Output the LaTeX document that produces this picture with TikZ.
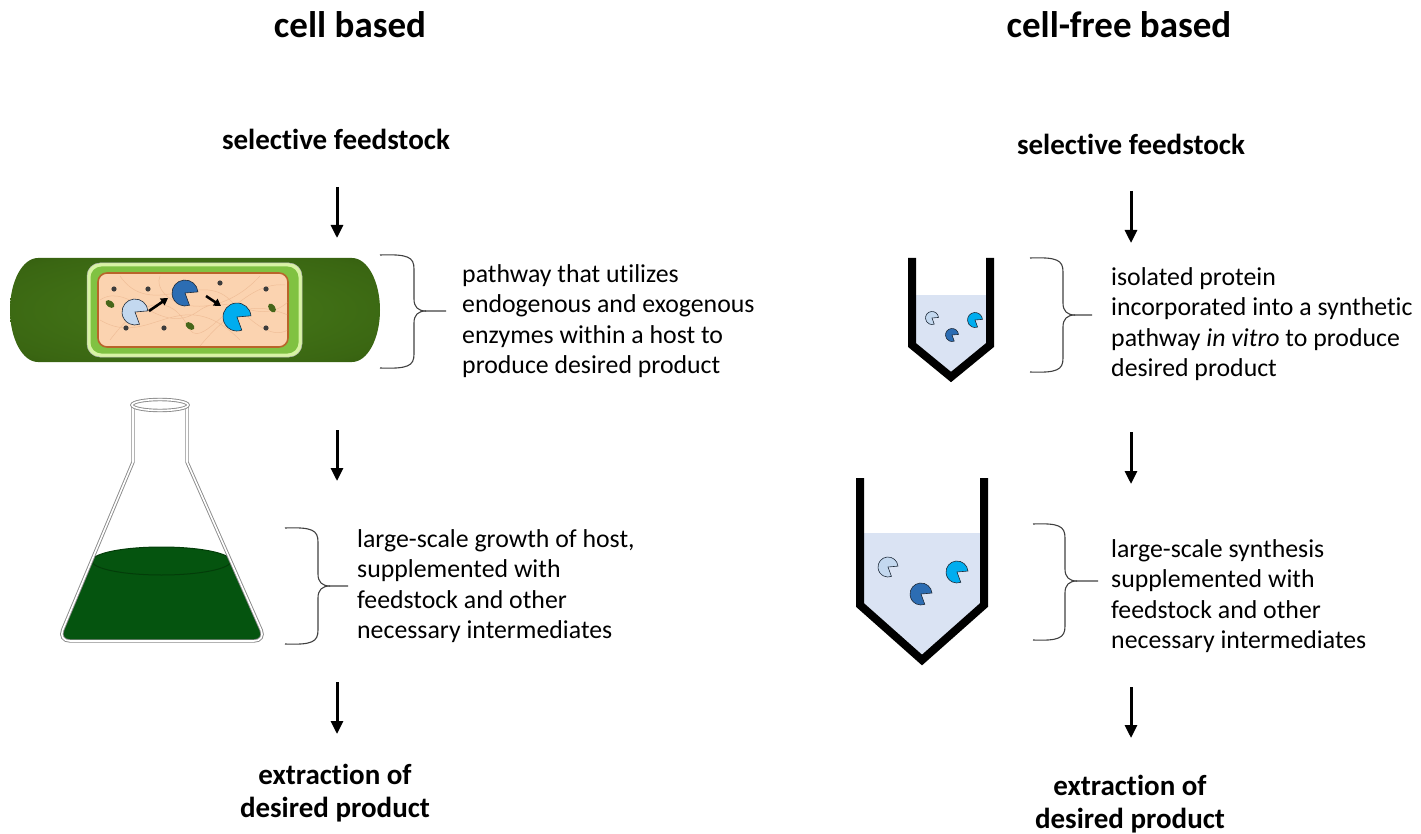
\documentclass[tikz,border=0pt]{standalone}
\usepackage{fontspec}
\setmainfont{Carlito}[Ligatures={NoCommon}]
\usetikzlibrary{arrows.meta}

\definecolor{cellgreen}{HTML}{3A6612}
\definecolor{cellgreenlight}{HTML}{477A19}
\definecolor{cellgreendark}{HTML}{284A08}
\definecolor{wallpale}{HTML}{D8F3A4}
\definecolor{wallgreen}{HTML}{80C242}
\definecolor{membrane}{HTML}{B8642A}
\definecolor{cytoplasm}{HTML}{FBD3B0}
\definecolor{fibre}{HTML}{F0BE98}
\definecolor{enzA}{HTML}{C3D8EF}
\definecolor{enzB}{HTML}{2C6DB3}
\definecolor{enzC}{HTML}{00ADEF}
\definecolor{pacedge}{HTML}{1E2B3A}
\definecolor{broth}{HTML}{05540F}
\definecolor{brothedge}{HTML}{033D09}
\definecolor{buffer}{HTML}{DAE3F3}
\definecolor{glass}{HTML}{8A8A8A}
\definecolor{granule}{HTML}{46661A}
\definecolor{ribosome}{HTML}{3C3C3C}

\pgfdeclareradialshading{capsule}{\pgfpoint{0bp}{0bp}}{%
  color(0bp)=(cellgreenlight); color(30bp)=(cellgreen); color(50bp)=(cellgreendark)}

% enzyme glyph: x, y, radius, fill colour
\newcommand\enzyme[4]{%
  \filldraw[fill=#4, draw=pacedge, line width=0.6pt]
    (#1,#2) -- ++(-5:#3) arc[start angle=-5, end angle=-290, radius=#3] -- cycle;}

% curly bracket: left end x, stem x, tip x, top y, middle y, bottom y
\newcommand\curlybrace[6]{%
  \draw[bracket] (#1,#4) .. controls ({#2-6},{#4-1}) and (#2,{#4+2}) .. (#2,{#4+14})
    -- (#2,{#5-12}) .. controls (#2,{#5-4}) and ({#2+4},#5) .. ({#2+12},#5) -- (#3,#5);
  \draw[bracket] (#1,#6) .. controls ({#2-6},{#6+1}) and (#2,{#6-2}) .. (#2,{#6-14})
    -- (#2,{#5+12}) .. controls (#2,{#5+4}) and ({#2+4},#5) .. ({#2+12},#5);}

\begin{document}
\begin{tikzpicture}[x=1pt, y=-1pt,
  title/.style={font=\bfseries\fontsize{37}{44}\selectfont, inner sep=0, anchor=base},
  stage/.style={font=\bfseries\fontsize{29}{33}\selectfont, inner sep=0, align=center},
  desc/.style={font=\fontsize{25.8}{30.5}\selectfont, inner sep=0, align=left, anchor=north west},
  flow/.style={line width=3pt, -{Triangle[length=13pt,width=12pt]}},
  minorflow/.style={line width=2.6pt, -{Triangle[length=7pt,width=8pt]}},
  bracket/.style={line width=1.1pt, draw=black!75},
  tubewall/.style={line width=8pt, line join=miter, line cap=butt},
  flaskline/.style={draw=glass, line width=0.9pt, double=white, double distance=1.6pt}]

\useasboundingbox (0,0) rectangle (1421,834);

% ---------------- headings ----------------
\node[title] (tL) at (350,38) {cell based};
\node[title] (tR) at (1119,38) {cell-free based};

\node[stage, anchor=base] (sL) at (336,150) {selective feedstock};
\node[stage, anchor=base] (sR) at (1131,155) {selective feedstock};

\node[stage, anchor=north] (xL) at (335,{784-23.1}) {\strut extraction of\\desired product};
\node[stage, anchor=north] (xR) at (1130,{795-23.1}) {\strut extraction of\\desired product};

% ---------------- flow arrows ----------------
\coordinate (L1a) at (337,187);  \coordinate (L1b) at (337,238);
\coordinate (L2a) at (337,430);  \coordinate (L2b) at (337,481);
\coordinate (L3a) at (337,682);  \coordinate (L3b) at (337,734);
\coordinate (R1a) at (1131,191); \coordinate (R1b) at (1131,243);
\coordinate (R2a) at (1131,432); \coordinate (R2b) at (1131,484);
\coordinate (R3a) at (1131,687); \coordinate (R3b) at (1131,738);
\foreach \s/\e in {L1a/L1b, L2a/L2b, L3a/L3b, R1a/R1b, R2a/R2b, R3a/R3b}
  \draw[flow] (\s) -- (\e);

% ---------------- host cell ----------------
\shade[shading=capsule] (38,258) -- (352,258)
  arc[start angle=-90, end angle=90, x radius=28, y radius=52] -- (38,362)
  arc[start angle=90, end angle=270, x radius=28, y radius=52] -- cycle;
\filldraw[fill=wallpale, draw=glass!60, line width=0.5pt, rounded corners=13pt] (87,263) rectangle (302,357);
\fill[wallgreen, rounded corners=11pt] (90.5,266.5) rectangle (298.5,353.5);
\filldraw[fill=cytoplasm, draw=membrane, line width=1.6pt, rounded corners=9pt] (98,273) rectangle (288,347);
\begin{scope}
  \clip[rounded corners=8pt] (99,274) rectangle (287,346);
  \draw[fibre, line width=0.5pt]
    (100,300) .. controls (130,280) and (160,340) .. (200,310) .. controls (230,290) and (260,330) .. (290,300)
    (110,340) .. controls (140,300) and (170,290) .. (190,330) .. controls (205,350) and (240,280) .. (285,285)
    (120,276) .. controls (150,320) and (200,270) .. (230,300) .. controls (250,320) and (270,340) .. (288,330)
    (100,320) .. controls (150,350) and (180,280) .. (240,340)
    (160,276) .. controls (150,300) and (210,330) .. (260,276)
    (200,346) .. controls (230,310) and (250,300) .. (288,315);
\end{scope}
\foreach \p in {(114,289),(148,289),(220,283),(266,289),(126,328),(164,328),(266,328)}
  \fill[ribosome] \p circle[radius=2.6];
\fill[granule, rotate around={-35:(110,304)}] (110,304) ellipse[x radius=5, y radius=3.2];
\fill[granule, rotate around={-35:(190,326)}] (190,326) ellipse[x radius=5, y radius=3.2];
\fill[granule, rotate around={-55:(272,308)}] (272,308) ellipse[x radius=5, y radius=3.2];
\enzyme{135}{312}{13}{enzA}
\enzyme{185}{293}{13}{enzB}
\enzyme{237}{317}{14}{enzC}
\coordinate (c1a) at (149,311); \coordinate (c1b) at (168,298);
\coordinate (c2a) at (206,296); \coordinate (c2b) at (221,306);
\draw[minorflow] (c1a) -- (c1b);
\draw[minorflow] (c2a) -- (c2b);

% ---------------- culture flask ----------------
\fill[broth] (231,561) arc[start angle=0, end angle=-180, x radius=69.5, y radius=14]
  [rounded corners=12pt] -- (58,641) -- (266,641) [sharp corners] -- cycle;
\draw[brothedge, line width=1pt] (161.5,561) ellipse[x radius=69.5, y radius=14];
\draw[flaskline, rounded corners=12pt] (133,407) [sharp corners] -- (133,462) [rounded corners=12pt]
  -- (58,641) -- (266,641) [sharp corners] -- (187,462) -- (187,407);
\draw[flaskline] (160,405) ellipse[x radius=28, y radius=5.5];

% ---------------- reaction tubes ----------------
\fill[buffer] (912,295) -- (990,295) -- (990,345) -- (951,377) -- (912,345) -- cycle;
\draw[tubewall] (912,258) -- (912,345) -- (951,377) -- (990,345) -- (990,258);
\enzyme{932}{318}{6.5}{enzA}
\enzyme{952}{335}{6.5}{enzB}
\enzyme{975}{320}{7.5}{enzC}

\fill[buffer] (860,533) -- (984,533) -- (984,605) -- (922,660) -- (860,605) -- cycle;
\draw[tubewall] (860,478) -- (860,605) -- (922,660) -- (984,605) -- (984,478);
\enzyme{888}{567}{10}{enzA}
\enzyme{921}{594}{11}{enzB}
\enzyme{957}{572}{11}{enzC}

% ---------------- brackets and notes ----------------
\curlybrace{380}{414}{446}{255}{311}{368}
\curlybrace{285}{318}{348}{528}{586}{644}
\curlybrace{1030}{1063}{1092}{258}{315}{372}
\curlybrace{1033}{1065}{1098}{524}{581}{640}

\node[desc] (dL1) at (462,{282-21.35}) {\strut pathway that utilizes\\endogenous and exogenous\\enzymes within a host to\\produce desired product};
\node[desc] (dL2) at (357,{547-21.35}) {\strut large-scale growth of host,\\supplemented with\\feedstock and other\\necessary intermediates};
\node[desc] (dR1) at (1111,{285-21.35}) {\strut isolated protein\\incorporated into a synthetic\\pathway \textit{in vitro} to produce\\desired product};
\node[desc] (dR2) at (1111,{557-21.35}) {\strut large-scale synthesis\\supplemented with\\feedstock and other\\necessary intermediates};

\end{tikzpicture}
\end{document}
